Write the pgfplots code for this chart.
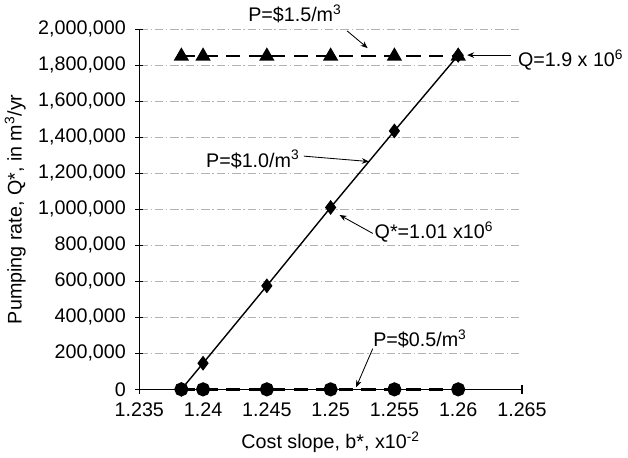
\documentclass[border=0pt]{standalone}
\usepackage{pgfplots}
\pgfplotsset{compat=1.18}
\usepackage{fontspec}
\setmainfont{Liberation Sans}
\usetikzlibrary{arrows.meta}

\begin{document}
\begin{tikzpicture}[font=\fontsize{14}{16.5}\selectfont]
\begin{axis}[
  scale only axis,
  width=272pt, height=256pt,
  xmin=1.235, xmax=1.265,
  ymin=0, ymax=2000000,
  xtick={1.235,1.24,1.245,1.25,1.255,1.26,1.265},
  ytick={0,200000,...,2000000},
  scaled y ticks=false, scaled x ticks=false,
  axis x line*=bottom, axis y line*=left,
  tick align=center,
  major tick length=6pt,
  tick style={black, line width=0.8pt},
  axis line style={line width=0.9pt},
  ymajorgrids,
  major grid style={gray!60, dash pattern=on 6pt off 2pt on 1pt off 2pt, line width=0.5pt},
  xticklabel style={yshift=-3pt, /pgf/number format/.cd, fixed, precision=3, assume math mode=true},
  yticklabel style={xshift=-3pt, /pgf/number format/.cd, fixed, 1000 sep={,}, assume math mode=true},
  xlabel={Cost slope, b*, x10\textsuperscript{-2}},
  ylabel={Pumping rate, Q*, in m\textsuperscript{3}/yr},
  xlabel style={yshift=-4pt},
  ylabel style={yshift=2pt},
  clip=false,
]
% P = 1.5
\addplot[black, line width=1.8pt, dash pattern=on 10pt off 6pt,
  mark=triangle*, mark size=4.5pt, mark options={solid}]
  coordinates {(1.2383,1850000) (1.24,1850000) (1.245,1850000) (1.25,1850000) (1.255,1850000) (1.26,1850000)};
% P = 1.0
\addplot[black, line width=1pt,
  mark=diamond*, mark size=4.5pt]
  coordinates {(1.2383,0) (1.24,145000) (1.245,575000) (1.25,1010000) (1.255,1435000) (1.26,1855000)};
% P = 0.5
\addplot[black, line width=2pt, dash pattern=on 10pt off 6pt,
  mark=*, mark size=4pt, mark options={solid}]
  coordinates {(1.2383,0) (1.24,0) (1.245,0) (1.25,0) (1.255,0) (1.26,0)};

% annotations
\node at (axis cs:1.2472,2085000) {P=\$1.5/m\textsuperscript{3}};
\draw[-{Stealth[length=5pt,width=4pt]}, line width=0.6pt] (axis cs:1.2513,1990000) -- (axis cs:1.2529,1895000);

\node[anchor=west] at (axis cs:1.2643,1830000) {Q=1.9 x 10\textsuperscript{6}};
\draw[-{Stealth[length=5pt,width=4pt]}, line width=0.6pt] (axis cs:1.2641,1856000) -- (axis cs:1.2607,1856000);

\node at (axis cs:1.2439,1277000) {P=\$1.0/m\textsuperscript{3}};
\draw[-{Stealth[length=5pt,width=4pt]}, line width=0.6pt] (axis cs:1.2479,1295000) -- (axis cs:1.2530,1265000);

\node at (axis cs:1.2581,875000) {Q*=1.01 x10\textsuperscript{6}};
\draw[-{Stealth[length=5pt,width=4pt]}, line width=0.6pt] (axis cs:1.2533,866000) -- (axis cs:1.2507,968000);

\node at (axis cs:1.2570,280000) {P=\$0.5/m\textsuperscript{3}};
\draw[-{Stealth[length=5pt,width=4pt]}, line width=0.6pt] (axis cs:1.2533,226000) -- (axis cs:1.2520,12000);
\end{axis}
\end{tikzpicture}
\end{document}
